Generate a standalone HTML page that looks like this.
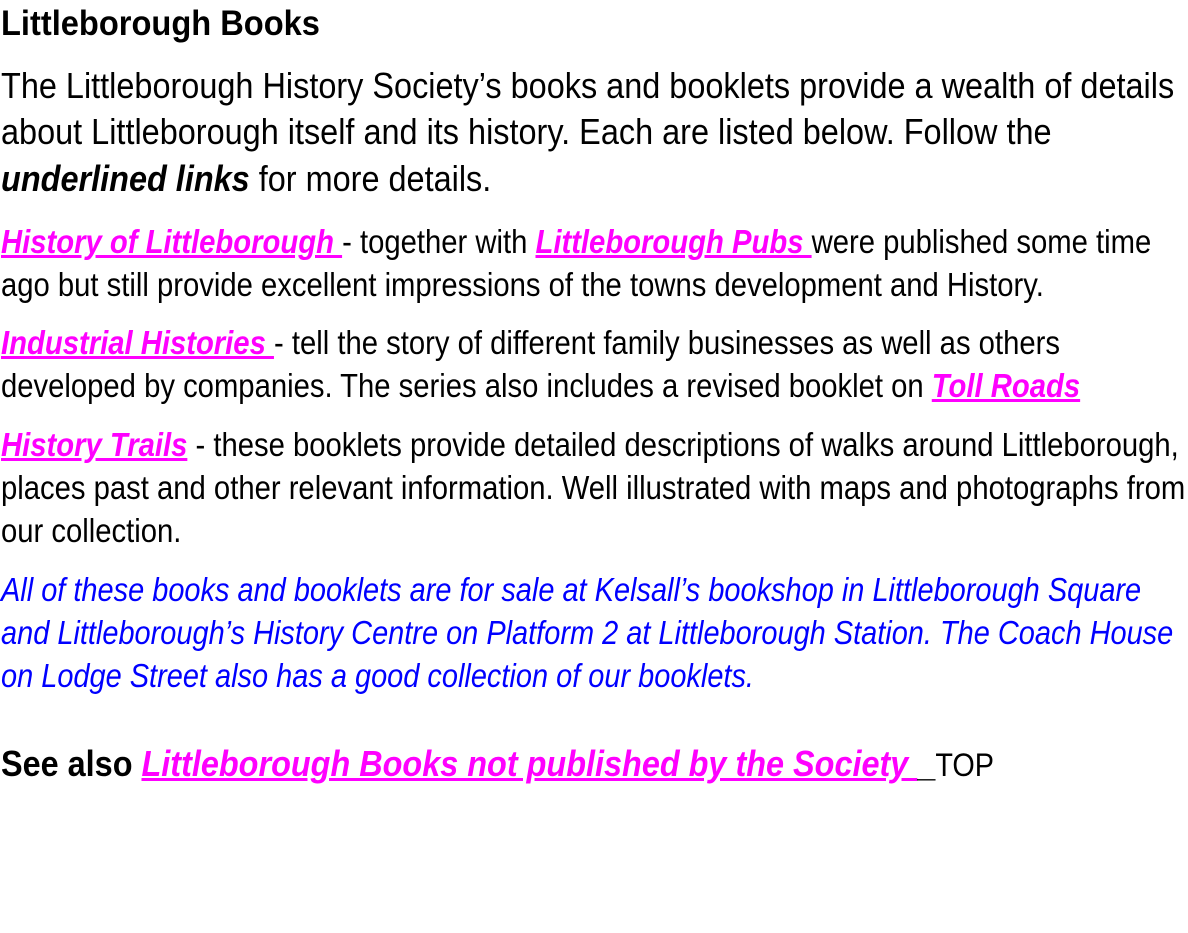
<!DOCTYPE html>
<html><head><meta charset="utf-8"><style>
body{margin:0;width:1188px;height:933px;background:#fff;overflow:hidden;font-family:"Liberation Sans",sans-serif;color:#000}
.l{position:absolute;left:1px;white-space:nowrap;line-height:1;transform-origin:0 0;transform:scaleX(0.886)}
.p1{transform:scaleX(0.901)}
a{color:#f0f;font-weight:bold;font-style:italic;text-decoration:underline}
.b{color:#00f;font-style:italic;transform:scaleX(0.877)}
</style></head><body>
<div class="l" style="top:6px;font-size:35px;font-weight:bold;transform:scaleX(0.932)">Littleborough Books</div>
<div class="l p1" style="top:68px;font-size:36px">The Littleborough History Society’s books and booklets provide a wealth of details</div>
<div class="l p1" style="top:114px;font-size:36px">about Littleborough itself and its history. Each are listed below. Follow the</div>
<div class="l p1" style="top:161px;font-size:36px"><b><i>underlined links</i></b> for more details.</div>
<div class="l" style="top:225px;font-size:33px"><a>History of Littleborough </a>- together with <a>Littleborough Pubs </a> were published some time</div>
<div class="l" style="top:268px;font-size:33px">ago but still provide excellent impressions of the towns development and History.</div>
<div class="l" style="top:326px;font-size:33px"><a>Industrial Histories </a>- tell the story of different family businesses as well as others</div>
<div class="l" style="top:369px;font-size:33px">developed by companies. The series also includes a revised booklet on <a>Toll Roads</a></div>
<div class="l" style="top:428px;font-size:33px"><a>History Trails</a> - these booklets provide detailed descriptions of walks around Littleborough,</div>
<div class="l" style="top:471px;font-size:33px">places past and other relevant information. Well illustrated with maps and photographs from</div>
<div class="l" style="top:514px;font-size:33px">our collection.</div>
<div class="l b" style="top:573px;font-size:33px">All of these books and booklets are for sale at Kelsall’s bookshop in Littleborough Square</div>
<div class="l b" style="top:616px;font-size:33px">and Littleborough’s History Centre on Platform 2 at Littleborough Station. The Coach House</div>
<div class="l b" style="top:659px;font-size:33px">on Lodge Street also has a good collection of our booklets.</div>
<div class="l" style="top:746px;font-size:36px;transform:scaleX(0.9)"><b>See also </b><a>Littleborough Books not published by the Society </a><b>_</b><span style="font-size:32px">TOP</span></div>
</body></html>
